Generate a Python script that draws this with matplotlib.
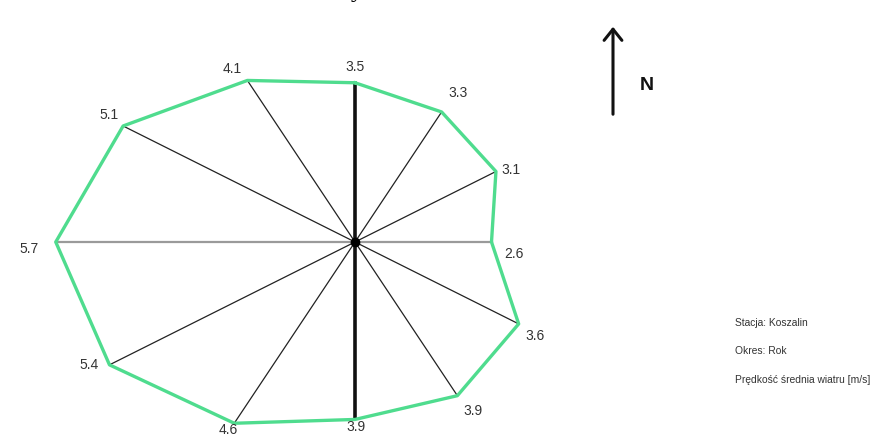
import numpy as np
import matplotlib
matplotlib.use("Agg")
import matplotlib.pyplot as plt

# Data: mean wind speed [m/s] for 12 directions (bearing in degrees, clockwise from N)
directions = [0, 30, 60, 90, 120, 150, 180, 210, 240, 270, 300, 330]
speeds = [3.5, 3.3, 3.1, 2.6, 3.6, 3.9, 3.9, 4.6, 5.4, 5.7, 5.1, 4.1]
labels = ["3.5", "3.3", "3.1", "2.6", "3.6", "3.9", "3.9", "4.6", "5.4", "5.7", "5.1", "4.1"]
info_lines = ["Stacja: Koszalin", "Okres: Rok", "Prędkość średnia wiatru [m/s]"]

# label offsets in points (style only)
label_offsets = [(0, 11), (12, 14), (11, 1), (16, -9), (12, -9), (11, -11),
                 (1, -5.5), (-4, -5.2), (-15, 0), (-19, -5), (-10, 8), (-11, 8)]

W, H = 871, 437
fig = plt.figure(figsize=(W / 100, H / 100), dpi=100)
ax = fig.add_axes([0, 0, 1, 1])
ax.set_axis_off()

cx, cy = 355, 242
sx, sy = 52.5, 45.5
ax.set_xlim(-cx / sx, (W - cx) / sx)
ax.set_ylim(-(H - cy) / sy, cy / sy)

ang = np.deg2rad(directions)
sp = np.array(speeds)
x = sp * np.sin(ang)
y = sp * np.cos(ang)

txt_font = ["Liberation Sans", "DejaVu Sans"]

# spokes
for i, (xi, yi) in enumerate(zip(x, y)):
    d = directions[i]
    if d in (0, 180):
        ax.plot([0, xi], [0, yi], color="#111111", lw=2.6, zorder=3, solid_capstyle="butt")
    elif d in (90, 270):
        ax.plot([0, xi], [0, yi], color="#9a9a9a", lw=1.6, zorder=2)
    else:
        ax.plot([0, xi], [0, yi], color="#222222", lw=0.9, zorder=2)

# polygon
ax.plot(np.append(x, x[0]), np.append(y, y[0]), color="#4fdc8e", lw=2.4, zorder=4,
        solid_joinstyle="round")

# center dot
ax.plot([0], [0], "o", color="black", ms=6, zorder=5)

# value labels
for xi, yi, lab, off in zip(x, y, labels, label_offsets):
    ax.annotate(lab, (xi, yi), xytext=off, textcoords="offset points",
                ha="center", va="center", fontsize=10, color="#333333",
                family=txt_font, zorder=6)

# North arrow
fig.add_artist(matplotlib.patches.FancyArrowPatch(
    (613 / W, 1 - 117 / H), (613 / W, 1 - 24 / H), transform=fig.transFigure,
    arrowstyle="->,head_length=5,head_width=4", color="#111111", lw=2.2,
    mutation_scale=1.6))
fig.text(647 / W, 1 - 85 / H, "N", ha="center", va="center", fontsize=14,
         fontweight="bold", color="#111111", family=txt_font)

# station info
for k, line in enumerate(info_lines):
    fig.text(735 / W, 1 - (323 + 28.5 * k) / H, line, ha="left", va="center",
             fontsize=7.4, color="#333333", family=txt_font)

# cut-off title descender at the top
fig.text(357 / W, 1 + 3 / H, "y", ha="center", va="baseline", fontsize=18,
         family=["Liberation Serif", "DejaVu Serif"], color="black")

fig.savefig("out.png", dpi=100)
